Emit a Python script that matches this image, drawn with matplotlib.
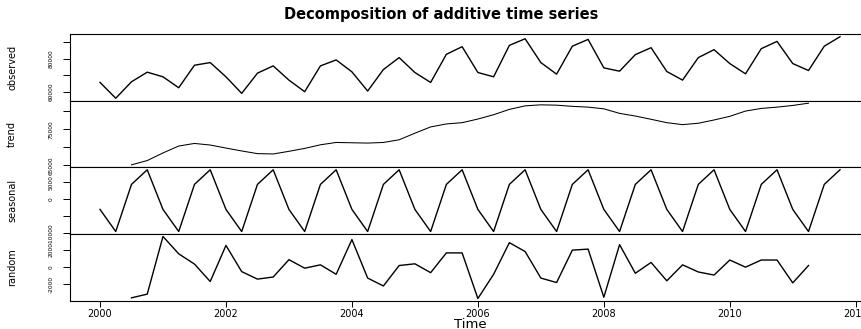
import numpy as np
import matplotlib.pyplot as plt

# quarterly series, 2000 Q1 .. 2011 Q4
start_year = 2000
freq = 4

observed = [65630, 56050, 66000, 71800, 69000, 62400, 76000, 77600, 69000, 59000, 71200, 75600,
            67000, 60000, 75600, 79200, 72000, 60400, 73400, 80600, 71600, 65600, 82600, 87200,
            71600, 69000, 88000, 92000, 77600, 70600, 87500, 91600, 74400, 72400, 82400, 86600,
            72200, 67000, 80600, 85400, 77000, 70800, 86000, 90400, 77000, 72800, 87500, 93200]

# moving average trend, NA for first and last two quarters
trend = [np.nan, np.nan,
         65170, 66350, 68450, 70360, 71070, 70630, 69800, 69000, 68260, 68170,
         68900, 69700, 70700, 71340, 71260, 71170, 71340, 72080, 73900, 75630, 76450, 76800,
         77800, 79000, 80460, 81440, 81720, 81630, 81300, 81090, 80620, 79370, 78630, 77730,
         76800, 76260, 76640, 77540, 78550, 80000, 80730, 81090, 81550, 82180,
         np.nan, np.nan]

seasonal_pattern = [-3000, -9500, 4350, 8650]

random_part = [np.nan, np.nan,
               -3570, -3140, 3570, 1550, 360, -1670, 2530, -520, -1390, -1150,
               870, -120, 270, -830, 3210, -1270, -2190, 190, 390, -640, 1660, 1660,
               -3650, -830, 2850, 1820, -1270, -1790, 1980, 2100, -3500, 2620, -710, 550,
               -1590, 270, -560, -920, 830, 0, 830, 830, -1830, 190,
               np.nan, np.nan]

panel_names = ["observed", "trend", "seasonal", "random"]
y_ticks = {
    "observed": ([60000, 70000, 80000, 90000], ["60000", "", "80000", ""]),
    "trend": ([65000, 70000, 75000, 80000], ["65000", "", "75000", ""]),
    "seasonal": ([-10000, -5000, 0, 5000], ["-10000", "", "0", "5000"]),
    "random": ([-2000, 0, 2000], ["-2000", "0", "2000"]),
}
x_ticks = [2000, 2002, 2004, 2006, 2008, 2010, 2012]

n = len(observed)
time = start_year + np.arange(n) / freq
seasonal = np.tile(seasonal_pattern, n // freq)
series = {
    "observed": np.array(observed, dtype=float),
    "trend": np.array(trend, dtype=float),
    "seasonal": seasonal.astype(float),
    "random": np.array(random_part, dtype=float),
}

W, H = 862, 329
fig = plt.figure(figsize=(W / 100, H / 100), dpi=100)

narrow = ["Liberation Sans Narrow", "DejaVu Sans"]
left_px, right_px = 70.4, 869.6
edges_px = [34.3, 100.7, 167.3, 234.0, 301.0]

xr = time[-1] - time[0]
xlim = (time[0] - 0.04 * xr, time[-1] + 0.04 * xr)

axes = []
for i, name in enumerate(panel_names):
    top, bot = edges_px[i], edges_px[i + 1]
    ax = fig.add_axes([left_px / W, 1 - bot / H, (right_px - left_px) / W, (bot - top) / H])
    vals = series[name]
    lw = 0.75 if name == "trend" else 1.0
    ax.plot(time, vals, color="black", lw=lw)
    lo, hi = np.nanmin(vals), np.nanmax(vals)
    pad = 0.04 * (hi - lo)
    ax.set_ylim(lo - pad, hi + pad)
    ax.set_xlim(*xlim)

    ticks, labels = y_ticks[name]
    ax.set_yticks(ticks)
    ax.set_yticklabels(labels, rotation=90, va="center", family=narrow, fontsize=4.2)
    ax.tick_params(axis="y", length=4.8, width=0.7, pad=7.5)
    ax.set_ylabel(name, family=narrow, fontsize=7)
    ax.yaxis.set_label_coords(-0.0668, 0.5)

    for sp in ax.spines.values():
        sp.set_linewidth(0.8)

    if i < len(panel_names) - 1:
        ax.tick_params(axis="x", bottom=False, labelbottom=False)
    else:
        ax.set_xticks(x_ticks)
        ax.set_xticklabels([str(t) for t in x_ticks], fontsize=7)
        ax.tick_params(axis="x", length=4.3, width=0.7, pad=1.2)
    axes.append(ax)

fig.text(441 / W, 1 - 14 / H, "Decomposition of additive time series",
         ha="center", va="center", fontsize=10.5, fontweight="bold")
fig.text(470 / W, 1 - 327.5 / H, "Time", ha="center", va="baseline", fontsize=9.5)

fig.savefig("out.png", dpi=100)
